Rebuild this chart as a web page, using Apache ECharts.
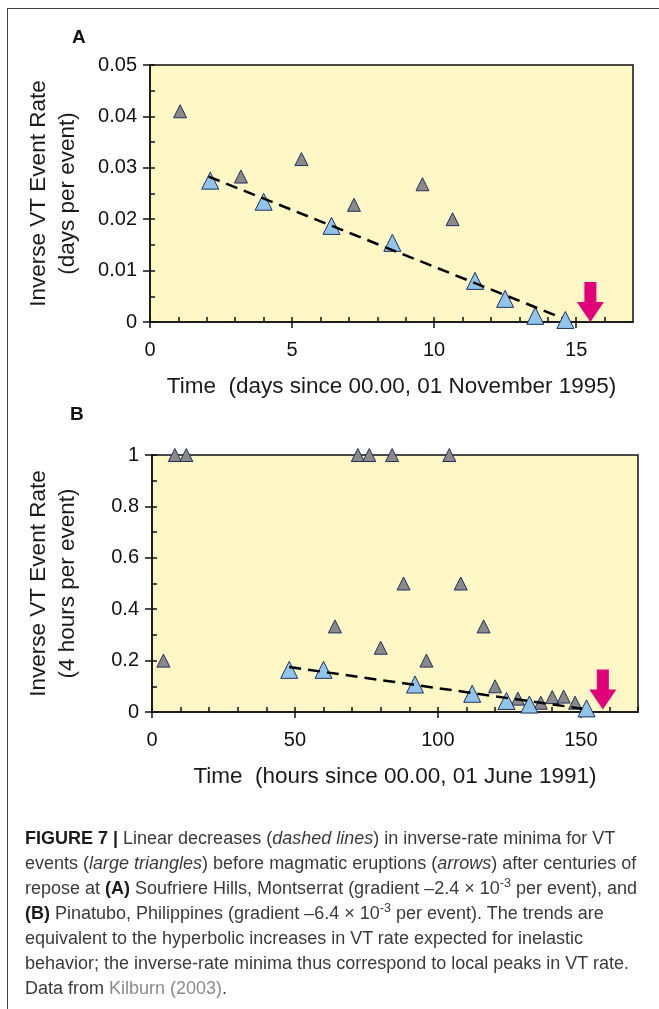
<!DOCTYPE html>
<html>
<head>
<meta charset="utf-8">
<script src="https://cdn.jsdelivr.net/npm/echarts@6/dist/echarts.min.js"></script>
<style>
  html, body { margin: 0; padding: 0; background: #fff; }
  #wrap { position: relative; width: 659px; height: 1009px; overflow: hidden; }
  #chart { position: absolute; left: 0; top: 0; width: 659px; height: 1009px; }
  #frame { position: absolute; left: 7px; top: 8px; width: 660px; height: 1010px;
    border-left: 1.5px solid #444; border-top: 1.5px solid #444; pointer-events: none; }
  #caption { position: absolute; left: 25px; top: 826px; white-space: nowrap;
    font-family: "Liberation Sans Narrow", "Liberation Sans", Arial, sans-serif;
    font-size: 18px; line-height: 25px; color: #3a3a3a; }
  #caption b { color: #1a1a1a; }
  #caption sup { font-size: 0.7em; vertical-align: 0; position: relative; top: -0.55em; line-height: 0; }
  #caption .ref { color: #8a8a8a; }
</style>
</head>
<body>
<div id="wrap">
  <div id="chart"></div>
  <div id="frame"></div>
  <div id="caption">
    <b>FIGURE 7 |</b> Linear decreases (<i>dashed lines</i>) in inverse-rate minima for VT<br>
    events (<i>large triangles</i>) before magmatic eruptions (<i>arrows</i>) after centuries of<br>
    repose at <b>(A)</b> Soufriere Hills, Montserrat (gradient –2.4 × 10<sup>-3</sup> per event), and<br>
    <b>(B)</b> Pinatubo, Philippines (gradient –6.4 × 10<sup>-3</sup> per event). The trends are<br>
    equivalent to the hyperbolic increases in VT rate expected for inelastic<br>
    behavior; the inverse-rate minima thus correspond to local peaks in VT rate.<br>
    Data from <span class="ref">Kilburn (2003)</span>.
  </div>
</div>
<script>
// panel A: Soufriere Hills (days)
const aGreyTime = [1.06, 3.2, 5.33, 7.18, 9.59, 10.65]
const aGreyRate = [0.041, 0.0283, 0.0317, 0.0228, 0.0268, 0.0200]
const aBigTime = [2.12, 4.0, 6.39, 8.53, 11.44, 12.5, 13.56, 14.62]
const aBigRate = [0.0275, 0.0234, 0.0187, 0.0154, 0.0080, 0.0045, 0.0012, 0.0004]
const aTrendTime = [2.06, 14.5]
const aTrendRate = [0.0283, 0.0008]
const aArrowTime = [15.5]
const aArrowRate = [0]
const aXMajor = [0, 5, 10, 15]
const aXMinor = [0, 1, 2, 3, 4, 5, 6, 7, 8, 9, 10, 11, 12, 13, 14, 15, 16]
const aYMajor = [0, 0.01, 0.02, 0.03, 0.04, 0.05]
const aYMinor = [0, 0.005, 0.01, 0.015, 0.02, 0.025, 0.03, 0.035, 0.04, 0.045, 0.05]

// panel B: Pinatubo (hours)
const bGreyTime = [4, 8, 12, 72, 76, 84, 104, 64, 80, 88, 96, 108, 116, 120, 128, 136, 140, 144, 148]
const bGreyRate = [0.2, 1, 1, 1, 1, 1, 1, 0.333, 0.25, 0.5, 0.2, 0.5, 0.333, 0.1, 0.052, 0.036, 0.058, 0.06, 0.036]
const bBigTime = [48, 60, 92, 112, 124, 132, 152]
const bBigRate = [0.164, 0.164, 0.107, 0.071, 0.043, 0.029, 0.014]
const bTrendTime = [48, 150.5]
const bTrendRate = [0.175, 0.013]
const bArrowTime = [157.7]
const bArrowRate = [0.01]
const bXMajor = [0, 50, 100, 150]
const bXMinor = [0, 10, 20, 30, 40, 50, 60, 70, 80, 90, 100, 110, 120, 130, 140, 150, 160, 170]
const bYMajor = [0, 0.2, 0.4, 0.6, 0.8, 1]
const bYMinor = [0, 0.1, 0.2, 0.3, 0.4, 0.5, 0.6, 0.7, 0.8, 0.9, 1]

const zip = (xs, ys) => xs.map((x, i) => [x, ys[i]])

const ink = '#111'
const font = 'Liberation Sans'
const arrowPath = 'path://M7.5,0 H19.5 V20 H27 L13.5,40 L0,20 H7.5 Z'

function mainX (grid, max, major, title, gap) {
  return {
    gridIndex: grid, type: 'value', min: 0, max: max, position: 'bottom',
    axisLine: { show: true, lineStyle: { color: ink, width: 1.5 } },
    axisTick: { show: true, customValues: major, length: 6, lineStyle: { color: ink, width: 1.5 } },
    axisLabel: { customValues: major, margin: 18, fontSize: 20, color: ink, fontFamily: font },
    splitLine: { show: false },
    name: title, nameLocation: 'middle', nameGap: gap,
    nameTextStyle: { fontSize: 22.5, color: '#1a1a1a', fontFamily: font }
  }
}
function minorX (grid, max, minor) {
  return {
    gridIndex: grid, type: 'value', min: 0, max: max, position: 'bottom',
    axisLine: { show: false },
    axisTick: { show: true, inside: true, customValues: minor, length: 5, lineStyle: { color: ink, width: 1.5 } },
    axisLabel: { show: false },
    splitLine: { show: false }
  }
}
function mainY (grid, max, major, title, gap) {
  return {
    gridIndex: grid, type: 'value', min: 0, max: max, position: 'left',
    axisLine: { show: true, lineStyle: { color: ink, width: 1.5 } },
    axisTick: { show: true, customValues: major, length: 7, lineStyle: { color: ink, width: 1.5 } },
    axisLabel: { customValues: major, margin: 13, fontSize: 20, color: ink, fontFamily: font },
    splitLine: { show: false },
    name: title, nameLocation: 'middle', nameRotate: 90, nameGap: gap,
    nameTextStyle: { fontSize: 22.5, lineHeight: 29, color: '#1a1a1a', fontFamily: font, align: 'center' }
  }
}
function minorY (grid, max, minor) {
  return {
    gridIndex: grid, type: 'value', min: 0, max: max, position: 'left',
    axisLine: { show: false },
    axisTick: { show: true, inside: true, customValues: minor, length: 5, lineStyle: { color: ink, width: 1.5 } },
    axisLabel: { show: false },
    splitLine: { show: false }
  }
}

function pointSeries (xi, yi, data, size, fill) {
  return {
    type: 'scatter', xAxisIndex: xi, yAxisIndex: yi, data: data,
    symbol: 'triangle', symbolSize: size, clip: false, z: 3,
    itemStyle: { color: fill, borderColor: '#22305e', borderWidth: 1, opacity: 1 }
  }
}
function trendSeries (xi, yi, data) {
  return {
    type: 'line', xAxisIndex: xi, yAxisIndex: yi, data: data,
    showSymbol: false, symbol: 'none', z: 4,
    lineStyle: { color: '#000', width: 2.5, type: [12, 7] }
  }
}
function arrowSeries (xi, yi, data) {
  return {
    type: 'scatter', xAxisIndex: xi, yAxisIndex: yi, data: data,
    symbol: arrowPath, symbolSize: [27, 40], symbolOffset: [0, '-50%'], clip: false, z: 5,
    itemStyle: { color: '#e2007a', opacity: 1 }
  }
}

const chart = echarts.init(document.getElementById('chart'), null, { renderer: 'canvas' })
const option = {
  animation: false,
  title: [
    { text: 'A', left: 72, top: 28, padding: 0, textStyle: { fontSize: 19, fontWeight: 'bold', color: '#111', fontFamily: font } },
    { text: 'B', left: 70, top: 405, padding: 0, textStyle: { fontSize: 19, fontWeight: 'bold', color: '#111', fontFamily: font } }
  ],
  grid: [
    { left: 150, top: 65, width: 483, height: 257, show: true, backgroundColor: '#fff7c6', borderColor: ink, borderWidth: 1.5 },
    { left: 152, top: 455, width: 486, height: 257, show: true, backgroundColor: '#fff7c6', borderColor: ink, borderWidth: 1.5 }
  ],
  xAxis: [
    mainX(0, 17, aXMajor, 'Time  (days since 00.00, 01 November 1995)', 53),
    minorX(0, 17, aXMinor),
    mainX(1, 170, bXMajor, 'Time  (hours since 00.00, 01 June 1991)', 53),
    minorX(1, 170, bXMinor)
  ],
  yAxis: [
    mainY(0, 0.05, aYMajor, 'Inverse VT Event Rate\n(days per event)', 68),
    minorY(0, 0.05, aYMinor),
    mainY(1, 1, bYMajor, 'Inverse VT Event Rate\n(4 hours per event)', 70),
    minorY(1, 1, bYMinor)
  ],
  series: [
    pointSeries(0, 0, zip(aGreyTime, aGreyRate), 13, '#8a8a8a'),
    pointSeries(0, 0, zip(aBigTime, aBigRate), 17, '#91c4ea'),
    trendSeries(0, 0, zip(aTrendTime, aTrendRate)),
    arrowSeries(0, 0, zip(aArrowTime, aArrowRate)),
    pointSeries(2, 2, zip(bGreyTime, bGreyRate), 13, '#8a8a8a'),
    pointSeries(2, 2, zip(bBigTime, bBigRate), 17, '#91c4ea'),
    trendSeries(2, 2, zip(bTrendTime, bTrendRate)),
    arrowSeries(2, 2, zip(bArrowTime, bArrowRate))
  ]
}
chart.setOption(option)
</script>
</body>
</html>
